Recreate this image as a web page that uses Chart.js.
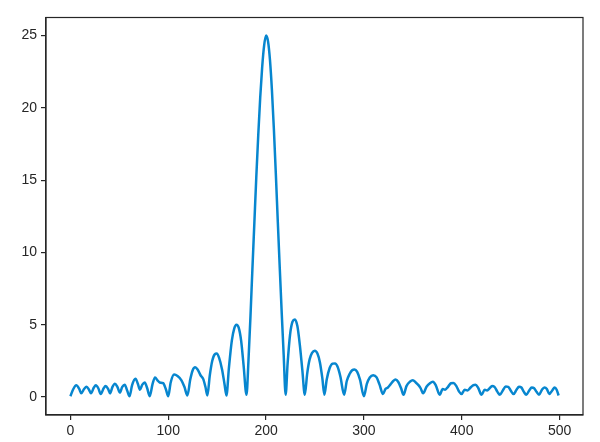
<!DOCTYPE html>
<html>
<head>
<meta charset="utf-8">
<script src="https://cdn.jsdelivr.net/npm/chart.js@4/dist/chart.umd.min.js"></script>
<style>
html,body{margin:0;padding:0;background:#fff;}
canvas{display:block;}
</style>
</head>
<body>
<canvas id="c" width="600" height="442"></canvas>
<script>
// Sample positions (x) and magnitudes (y)
const xValues = [
  0, 3, 6, 9, 11, 14, 16.5, 19, 21, 24, 26, 28.5, 31, 34, 36, 38.5, 40.5, 43, 45.5, 48, 50.5, 53, 55.5, 58,
  60.5, 63, 66.5, 69, 71, 73.5, 76, 78.5, 81, 84, 86.5, 89, 91.3, 94.8, 97.5, 100,
  102.5, 106, 109.5, 113.5, 116.5, 119.6, 122.5, 125, 127.5, 130, 133, 135.7, 138, 140,
  142.5, 145, 147.5, 149.5, 152, 155, 157.5, 159.5, 162, 165, 167.5, 169.7, 172, 174.5, 177, 180,
  182, 184, 186, 188, 190, 192, 194, 196, 198, 200, 202, 204, 206, 208, 210, 212, 214, 216, 218, 220,
  222, 224.5, 227, 229.5, 232, 234.5, 237, 239.6, 242, 244.5, 247, 249.8, 252.5, 255, 257.5, 259.6,
  262, 265, 268, 270.5, 273, 276, 279.8, 282.5, 285.5, 288, 290.5, 293, 296, 300,
  303, 306, 309.5, 313, 316, 319.5, 322, 324.5, 327, 330, 332.3, 335, 338, 340.5,
  343.5, 347, 350, 353, 356, 358, 360.5, 364, 367.5, 370.5, 373.5, 377.5,
  380.5, 383, 386, 389, 391.5, 394.5, 397.5, 399.8, 403, 406, 409, 412, 414, 417, 420.2,
  423.5, 426, 428.5, 431, 433.5, 436.5, 439, 442, 445, 447.5, 450, 453, 456, 458.5, 461, 463.5,
  466, 469, 471.5, 474, 476.5, 479, 482, 484.5, 487, 489.5, 492.5, 495, 497, 499
];
const magnitudes = [
  0.05, 0.55, 0.8, 0.55, 0.25, 0.55, 0.7, 0.5, 0.25, 0.65, 0.8, 0.6, 0.2, 0.6, 0.75, 0.55, 0.25, 0.7, 0.92, 0.7, 0.3, 0.7, 0.85, 0.45,
  0.05, 0.8, 1.25, 0.9, 0.5, 0.85, 1.0, 0.6, 0.05, 0.9, 1.35, 1.15, 1.0, 0.95, 0.55, 0.05,
  1.0, 1.55, 1.45, 1.15, 0.7, 0.1, 1.2, 1.85, 2.05, 1.9, 1.5, 1.25, 0.7, 0.1,
  1.5, 2.5, 2.95, 3.0, 2.7, 1.9, 0.9, 0.1, 2.0, 3.9, 4.75, 5.0, 4.8, 3.9, 2.2, 0.15,
  2.5, 5.5, 8.8, 12.0, 15.2, 18.1, 20.7, 22.8, 24.3, 25.0, 24.6, 23.3, 21.2, 18.5, 15.4, 12.1, 8.9, 5.8, 2.9, 0.15,
  2.3, 4.3, 5.2, 5.35, 4.9, 3.6, 1.9, 0.15, 1.6, 2.6, 3.05, 3.2, 3.0, 2.4, 1.3, 0.15,
  1.2, 2.0, 2.3, 2.32, 2.1, 1.4, 0.15, 1.1, 1.6, 1.85, 1.9, 1.75, 1.2, 0.05,
  0.9, 1.35, 1.5, 1.35, 0.85, 0.2, 0.55, 0.65, 0.85, 1.1, 1.2, 1.05, 0.6, 0.15,
  0.75, 1.05, 1.15, 1.0, 0.8, 0.6, 0.25, 0.7, 0.95, 1.05, 0.8, 0.15,
  0.55, 0.5, 0.7, 0.95, 0.97, 0.75, 0.35, 0.2, 0.5, 0.45, 0.65, 0.82, 0.85, 0.6, 0.15,
  0.5, 0.45, 0.6, 0.75, 0.7, 0.35, 0.15, 0.45, 0.72, 0.7, 0.45, 0.2, 0.5, 0.7, 0.65, 0.35,
  0.15, 0.45, 0.65, 0.6, 0.35, 0.15, 0.5, 0.65, 0.55, 0.2, 0.45, 0.65, 0.5, 0.1
];
const xTicks = [0, 100, 200, 300, 400, 500];
const yTicks = [0, 5, 10, 15, 20, 25];

const points = xValues.map((x, i) => ({x: x, y: magnitudes[i]}));
const ink = '#262626';
const font = {family: "'Liberation Sans', Arial, sans-serif", size: 14};

const framePlugin = {
  id: 'frame',
  afterDraw(chart) {
    const a = chart.chartArea, ctx = chart.ctx;
    ctx.save();
    ctx.strokeStyle = ink;
    ctx.lineWidth = 1.2;
    ctx.strokeRect(a.left, a.top, a.right - a.left, a.bottom - a.top);
    ctx.restore();
  }
};

new Chart(document.getElementById('c'), {
  type: 'line',
  data: {
    datasets: [{
      data: points,
      borderColor: '#0786cf',
      borderWidth: 2.5,
      pointRadius: 0,
      fill: false,
      cubicInterpolationMode: 'monotone'
    }]
  },
  options: {
    responsive: false,
    animation: false,
    devicePixelRatio: 1,
    layout: {padding: {top: 17.5, right: 17, left: 0, bottom: 0}},
    plugins: {legend: {display: false}, tooltip: {enabled: false}},
    scales: {
      x: {
        type: 'linear',
        min: -24.95, max: 523.95,
        afterBuildTicks: s => { s.ticks = xTicks.map(v => ({value: v})); },
        afterFit: s => { s.height = 27; },
        grid: {display: true, drawOnChartArea: false, drawTicks: true, tickLength: 5, color: ink, lineWidth: 1.2},
        border: {display: true, color: ink, width: 1.2},
        ticks: {color: ink, font: font, padding: 3, maxRotation: 0}
      },
      y: {
        type: 'linear',
        min: -1.25, max: 26.25,
        afterBuildTicks: s => { s.ticks = yTicks.map(v => ({value: v})); },
        afterFit: s => { s.width = 46; },
        grid: {display: true, drawOnChartArea: false, drawTicks: true, tickLength: 5, color: ink, lineWidth: 1.2},
        border: {display: true, color: ink, width: 1.2},
        ticks: {color: ink, font: font, padding: 4}
      }
    }
  },
  plugins: [framePlugin]
});
</script>
</body>
</html>
